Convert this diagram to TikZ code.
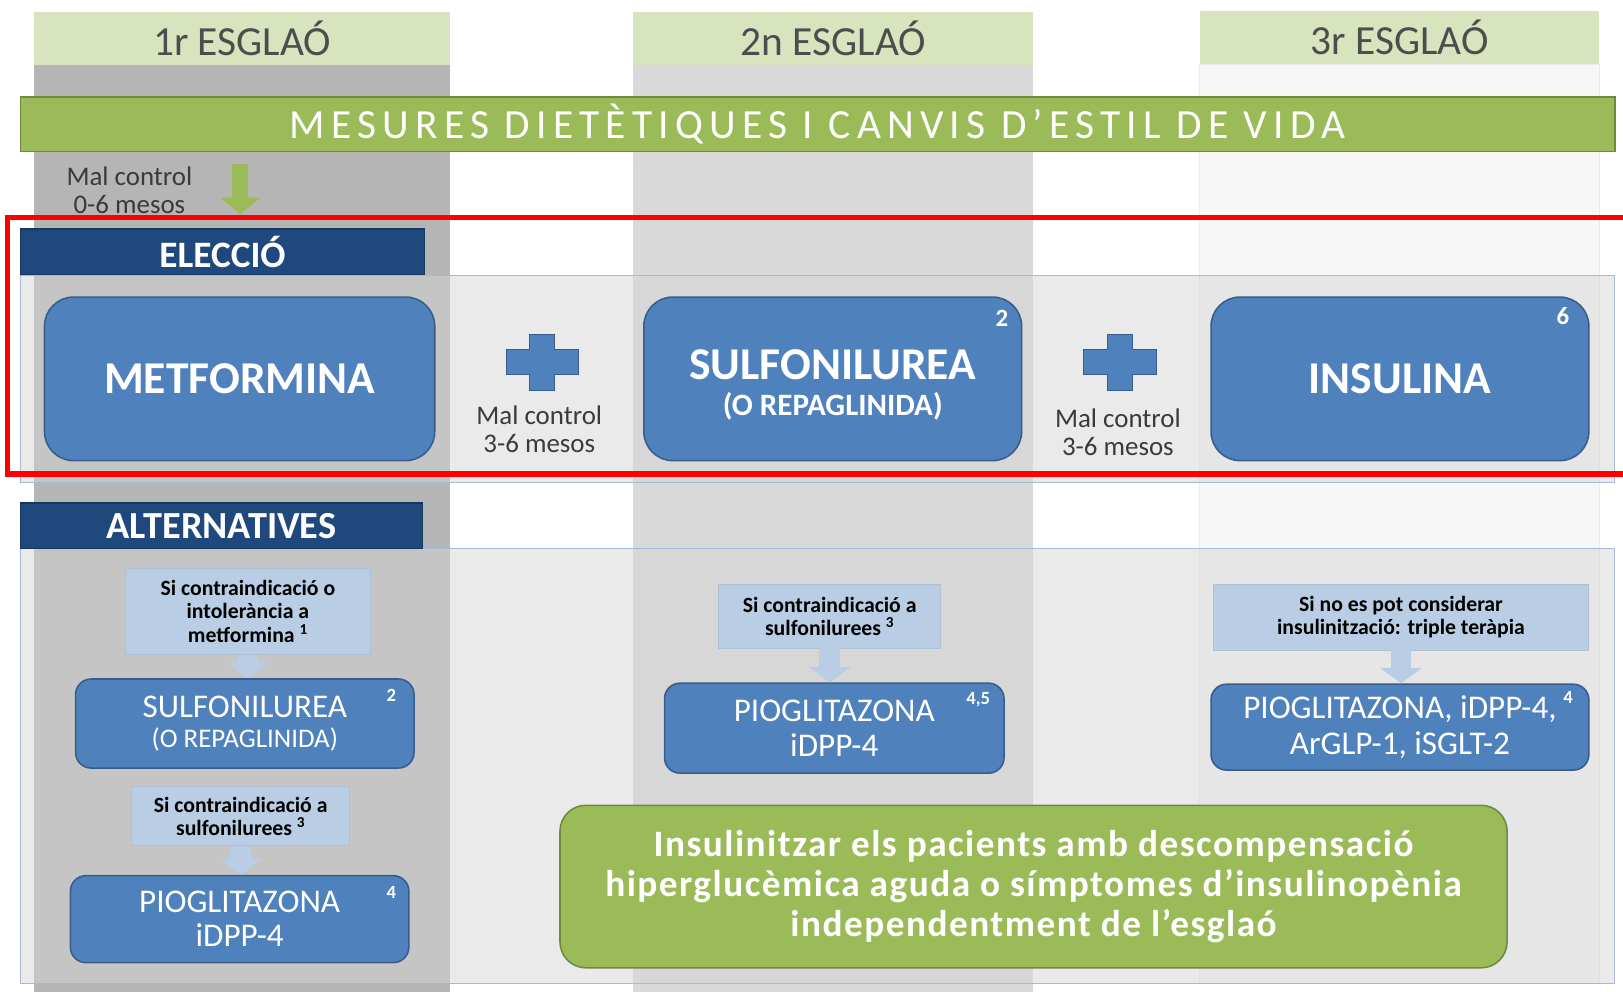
\documentclass[tikz,border=0pt]{standalone}
\usepackage{fontspec}
\setmainfont{Carlito}
\newfontfamily\bannerfont{Carlito}[LetterSpace=15]
\newfontfamily\greenfont{Carlito}[LetterSpace=4]
\usetikzlibrary{arrows.meta,positioning}
\definecolor{HdrGreen}{HTML}{D7E4BD}
\definecolor{ColOne}{HTML}{B5B5B5}
\definecolor{ColTwo}{HTML}{D9D9D9}
\definecolor{ColThree}{HTML}{F7F7F7}
\definecolor{LeafGreen}{HTML}{9BBB59}
\definecolor{LeafFrame}{HTML}{71893F}
\definecolor{NavyBG}{HTML}{1F497D}
\definecolor{NavyFrame}{HTML}{17375E}
\definecolor{DrugBlue}{HTML}{4F81BD}
\definecolor{DrugFrame}{HTML}{385D8A}
\definecolor{CondBlue}{HTML}{B9CDE5}
\definecolor{PanelFrame}{HTML}{A7B9D6}
\definecolor{TextGray}{HTML}{4D4D4D}
\definecolor{NoteGray}{HTML}{3A3A3A}
\newcommand{\fsz}[2]{\fontsize{#1}{#2}\selectfont}
\tikzset{
  hdr/.style={fill=HdrGreen,minimum height=51pt,inner sep=0pt,text=TextGray,font=\fsz{40}{44}},
  tagbox/.style={fill=NavyBG,draw=NavyFrame,line width=1.5pt,minimum height=44pt,inner sep=0pt,
    text=white,font=\fsz{36}{40}\bfseries},
  drugbig/.style={fill=DrugBlue,draw=DrugFrame,line width=1.5pt,rounded corners=28pt,
    minimum height=158pt,text=white,align=center,inner sep=0pt},
  drugsmall/.style={fill=DrugBlue,draw=DrugFrame,line width=1.5pt,rounded corners=15pt,
    text=white,align=center,inner sep=0pt,font=\fsz{32}{33}},
  condbox/.style={fill=CondBlue,draw=CondBlue!85!gray,line width=0.8pt,inner sep=0pt,
    align=center,font=\fsz{21}{22.5}\bfseries},
  supnum/.style={text=white,font=\fsz{18}{18}\bfseries,inner sep=0pt},
  note/.style={text=NoteGray,align=center,font=\fsz{26}{27},inner sep=0pt},
  panel/.style={fill=black!16,fill opacity=0.5,draw=PanelFrame,line width=1pt},
  flowdown/.style={CondBlue,line width=20pt,-{Triangle[width=40pt,length=15pt]}},
  leafdown/.style={LeafGreen,line width=16pt,-{Triangle[width=38pt,length=16pt]}},
}
\begin{document}
\begin{tikzpicture}[x=1pt,y=-1pt]
  \useasboundingbox (0,0) rectangle (1568,958);
  % --- step columns ---
  \fill[ColOne] (33,63) rectangle (435,958);
  \fill[ColTwo] (612,63) rectangle (998,958);
  \draw[fill=ColThree,draw=black!8] (1159,62) rectangle (1545,950);
  \node[hdr,minimum width=402pt] (hdrA) at (234,37.5) {1r ESGLAÓ};
  \node[hdr,minimum width=386pt] (hdrB) at (805,37.5) {2n ESGLAÓ};
  \node[hdr,minimum width=386pt] (hdrC) at (1352,36.5) {3r ESGLAÓ};

  % --- panels ---
  \draw[panel] (20,266) rectangle (1560,466);
  \draw[panel] (20,530) rectangle (1560,950);

  % --- lifestyle banner ---
  \node[fill=LeafGreen,draw=LeafFrame,line width=1.5pt,minimum width=1540pt,minimum height=53pt,
    inner sep=0pt,text=white,font=\bannerfont\fsz{40}{44}] (diet) at (790,120)
    {MESURES DIETÈTIQUES I CANVIS D’ESTIL DE VIDA};
  \node[note] (badA) at (125,184) {Mal control\\0-6 mesos};
  \coordinate (dietfoot) at (232,158);
  \coordinate (choicetop) at (232,207);
  \draw[leafdown] (dietfoot) -- (choicetop);

  % --- choice row ---
  \node[tagbox,minimum width=390pt] (choice) at (215,243) {ELECCIÓ};
  \node[drugbig,minimum width=377pt,font=\fsz{44}{48}\bfseries] (metf) at (231.5,366) {METFORMINA};
  \node[drugbig,minimum width=365pt,font=\fsz{44}{37}\bfseries] (sulf) at (804.5,366)
    {\rule{0pt}{40pt}SULFONILUREA\\[-2pt]{\fsz{30}{37}(O REPAGLINIDA)}};
  \node[drugbig,minimum width=365pt,font=\fsz{44}{48}\bfseries] (insu) at (1352.5,366) {INSULINA};
  \node[supnum,font=\fsz{24}{24}\bfseries] (supsulf) at (968,308) {2};
  \node[supnum,font=\fsz{24}{24}\bfseries] (supinsu) at (1510,305) {6};
  \foreach \px/\py in {524/350,1082/350}
    \draw[fill=DrugBlue,draw=DrugFrame,line width=1pt,shift={(\px,\py)}]
      (-12,-27) -- (12,-27) -- (12,-12) -- (35,-12) -- (35,12) -- (12,12) -- (12,27)
      -- (-12,27) -- (-12,12) -- (-35,12) -- (-35,-12) -- (-12,-12) -- cycle;
  \node[note] (badB) at (521,414.5) {Mal control\\3-6 mesos};
  \node[note] (badC) at (1080,417.5) {Mal control\\3-6 mesos};

  % --- highlight frame ---
  \draw[red,line width=5pt] (7,210) rectangle (1570,458);

  % --- alternatives ---
  \node[tagbox,minimum width=388pt,font=\fsz{37}{40}\bfseries] (alter) at (214,508) {ALTERNATIVES};
  \node[condbox,minimum width=237pt,minimum height=83pt] (condA) at (239.5,590.5)
    {Si contraindicació o\\intolerància a\\metformina \textsuperscript{1}};
  \node[drugsmall,minimum width=327pt,minimum height=86pt] (altsulf) at (236.5,699)
    {SULFONILUREA\\[-4pt]{\fsz{26}{29}(O REPAGLINIDA)}};
  \node[condbox,minimum width=211pt,minimum height=57pt] (condB) at (232.5,788.5)
    {Si contraindicació a\\sulfonilurees \textsuperscript{3}};
  \node[drugsmall,minimum width=327pt,minimum height=84pt] (altpio) at (231.5,888)
    {PIOGLITAZONA\\iDPP-4};
  \node[supnum] (supA) at (378,672) {2};
  \node[supnum] (supB) at (378,862) {4};

  \node[condbox,minimum width=215pt,minimum height=61pt] (condC) at (801.5,595.5)
    {Si contraindicació a\\sulfonilurees \textsuperscript{3}};
  \node[drugsmall,minimum width=328pt,minimum height=87pt] (altpiob) at (806,703.5)
    {PIOGLITAZONA\\iDPP-4};
  \node[supnum] (supC) at (945,676) {4,5};

  \node[condbox,minimum width=363pt,minimum height=63pt] (condD) at (1353.5,596.5)
    {Si no es pot considerar\\insulinització: triple teràpia};
  \node[drugsmall,minimum width=365pt,minimum height=83pt,font=\fsz{32}{34}] (alttri) at (1352.5,702.5)
    {PIOGLITAZONA, iDPP-4,\\ArGLP-1, iSGLT-2};
  \node[supnum] (supD) at (1515,674) {4};

  \draw[flowdown] (condA.south) -- (condA.south |- altsulf.north);
  \draw[flowdown] (condB.south) -- (condB.south |- altpio.north);
  \draw[flowdown] (condC.south) -- (condC.south |- altpiob.north);
  \draw[flowdown] (condD.south) -- (condD.south |- alttri.north);

  % --- insulinisation note ---
  \node[fill=LeafGreen,draw=LeafFrame,line width=1.5pt,rounded corners=25pt,minimum width=915pt,
    minimum height=157pt,inner sep=0pt,align=center,text=white,font=\greenfont\fsz{36}{39}\bfseries]
    (urgent) at (998.5,856.5)
    {Insulinitzar els pacients amb descompensació\\hiperglucèmica aguda o símptomes d’insulinopènia\\independentment de l’esglaó};
\end{tikzpicture}
\end{document}
